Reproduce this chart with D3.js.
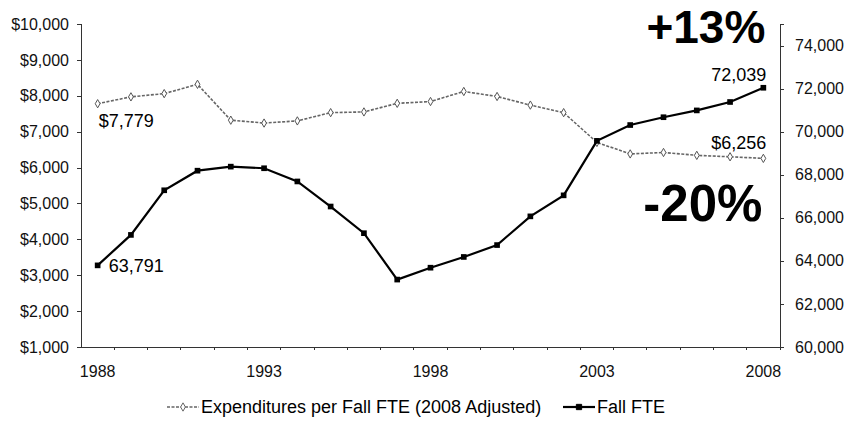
<!DOCTYPE html>
<html>
<head>
<meta charset="utf-8">
<script src="https://cdn.jsdelivr.net/npm/d3@7"></script>
<style>
	body { margin: 0; background: #fff; }
	svg { display: block; font-family: "Liberation Sans", Arial, sans-serif; }
	.axis path, .axis line { stroke: #333; shape-rendering: crispEdges; }
	.axis text { font-size: 16px; fill: #111; }
</style>
</head>
<body>
<svg id="chart"></svg>
<script>
let years		= [1988, 1989, 1990, 1991, 1992, 1993, 1994, 1995, 1996, 1997, 1998,
				   1999, 2000, 2001, 2002, 2003, 2004, 2005, 2006, 2007, 2008];
let spending	= [7779, 7970, 8060, 8320, 7320, 7240, 7300, 7530, 7550, 7790, 7840,
				   8120, 7980, 7740, 7530, 6700, 6380, 6420, 6340, 6300, 6256];
let fallFte		= [63791, 65205, 67278, 68188, 68376, 68301, 67688, 66524, 65285, 63131, 63683,
				   64182, 64734, 66067, 67043, 69573, 70308, 70671, 70987, 71378, 72039];
let leftTicks	= [1000, 2000, 3000, 4000, 5000, 6000, 7000, 8000, 9000, 10000];
let rightTicks	= [60000, 62000, 64000, 66000, 68000, 70000, 72000, 74000];
let yearTicks	= [1988, 1993, 1998, 2003, 2008];
let seriesNames	= ['Expenditures per Fall FTE (2008 Adjusted)', 'Fall FTE'];
let changes		= ['+13%', '-20%'];

let canvasWidth		= 848;
let canvasHeight	= 422;
let margin			= { top: 24, right: 68, bottom: 75, left: 81 };
let width			= canvasWidth - margin.left - margin.right;
let height			= canvasHeight - margin.top - margin.bottom;

let svg = d3.select('#chart')
	.attr('width', canvasWidth)
	.attr('height', canvasHeight)
	.append('g')
		.attr('transform', 'translate(' + margin.left + ',' + margin.top + ')');

let x		= d3.scaleBand().domain(years).range([0, width]).padding(0);
let yLeft	= d3.scaleLinear().domain([1000, 10000]).range([height, 0]);
let yRight	= d3.scaleLinear().domain([60000, 75000]).range([height, 0]);
let cx		= (d) => (x(d) + x.bandwidth() / 2);

// axes
let fmtMoney = (d) => ('$' + d3.format(',')(d));

svg.append('g')
	.attr('class', 'axis')
	.call(d3.axisLeft(yLeft).tickValues(leftTicks).tickFormat(fmtMoney).tickSize(4).tickPadding(8));

svg.append('g')
	.attr('class', 'axis')
	.attr('transform', 'translate(' + width + ',0)')
	.call(d3.axisRight(yRight).tickValues(rightTicks).tickFormat(d3.format(',')).tickSize(4).tickPadding(11));

// category axis: ticks sit between the years, labels under every 5th year
let xAxis = svg.append('g')
	.attr('class', 'axis')
	.attr('transform', 'translate(0,' + height + ')');

xAxis.append('line')
	.attr('x1', 0)
	.attr('x2', width);

xAxis.selectAll('.tick-mark').data(years).enter()
	.append('line')
		.attr('class', 'tick-mark')
		.attr('x1', (d) => (x(d) + x.bandwidth()))
		.attr('x2', (d) => (x(d) + x.bandwidth()))
		.attr('y1', 0)
		.attr('y2', 3);

xAxis.selectAll('.year').data(yearTicks).enter()
	.append('text')
		.attr('class', 'year')
		.attr('text-anchor', 'middle')
		.attr('x', (d) => cx(d))
		.attr('y', 30)
		.text((d) => d);

// series
let spendLine	= d3.line().x((d, i) => cx(years[i])).y((d) => yLeft(d));
let fteLine		= d3.line().x((d, i) => cx(years[i])).y((d) => yRight(d));

svg.append('path')
	.datum(spending)
	.attr('d', spendLine)
	.attr('fill', 'none')
	.attr('stroke', '#666')
	.attr('stroke-width', 1.6)
	.attr('stroke-dasharray', '3,1.5');

svg.selectAll('.spend-pt').data(spending).enter()
	.append('path')
		.attr('class', 'spend-pt')
		.attr('d', d3.symbol().type(d3.symbolDiamond).size(20))
		.attr('transform', (d, i) => ('translate(' + cx(years[i]) + ',' + yLeft(d) + ')'))
		.attr('fill', '#fff')
		.attr('stroke', '#555')
		.attr('stroke-width', 1);

svg.append('path')
	.datum(fallFte)
	.attr('d', fteLine)
	.attr('fill', 'none')
	.attr('stroke', '#000')
	.attr('stroke-width', 2.2);

svg.selectAll('.fte-pt').data(fallFte).enter()
	.append('path')
		.attr('class', 'fte-pt')
		.attr('d', d3.symbol().type(d3.symbolSquare).size(32))
		.attr('transform', (d, i) => ('translate(' + cx(years[i]) + ',' + yRight(d) + ')'))
		.attr('fill', '#000');

// end point labels
let first	= 0;
let last	= years.length - 1;
let lblSize	= '18px';

svg.append('text')
	.attr('x', cx(years[first]) + 1)
	.attr('y', yLeft(spending[first]) + 23)
	.attr('font-size', lblSize)
	.text(fmtMoney(spending[first]));

svg.append('text')
	.attr('x', cx(years[first]) + 11)
	.attr('y', yRight(fallFte[first]) + 7)
	.attr('font-size', lblSize)
	.text(d3.format(',')(fallFte[first]));

svg.append('text')
	.attr('text-anchor', 'end')
	.attr('x', cx(years[last]) + 3)
	.attr('y', yRight(fallFte[last]) - 7)
	.attr('font-size', lblSize)
	.text(d3.format(',')(fallFte[last]));

svg.append('text')
	.attr('text-anchor', 'end')
	.attr('x', cx(years[last]) + 3)
	.attr('y', yLeft(spending[last]) - 9)
	.attr('font-size', lblSize)
	.text(fmtMoney(spending[last]));

// big change callouts
svg.append('text')
	.attr('text-anchor', 'end')
	.attr('x', cx(years[last]) + 2)
	.attr('y', yRight(fallFte[last]) - 45)
	.attr('font-size', '46px')
	.attr('font-weight', 'bold')
	.text(changes[0]);

svg.append('text')
	.attr('text-anchor', 'end')
	.attr('x', cx(years[last]) - 1)
	.attr('y', yLeft(spending[last]) + 63)
	.attr('font-size', '51px')
	.attr('font-weight', 'bold')
	.text(changes[1]);

// legend
let legend = svg.append('g')
	.attr('transform', 'translate(0,' + (height + 60) + ')');

let legendItems = [
	{ name: seriesNames[0], x: 86, color: '#666', dash: '3,1.5', sym: d3.symbolDiamond, fill: '#fff', size: 20 },
	{ name: seriesNames[1], x: 482, color: '#000', dash: null, sym: d3.symbolSquare, fill: '#000', size: 28 }
];

let item = legend.selectAll('.legend-item').data(legendItems).enter()
	.append('g')
		.attr('class', 'legend-item')
		.attr('transform', (o) => ('translate(' + o.x + ',0)'));

item.append('line')
	.attr('x1', 0)
	.attr('x2', 32)
	.attr('stroke', (o) => o.color)
	.attr('stroke-width', (o, i) => (i ? 2.2 : 1.6))
	.attr('stroke-dasharray', (o) => o.dash);

item.append('path')
	.attr('d', (o) => d3.symbol().type(o.sym).size(o.size)())
	.attr('transform', 'translate(16,0)')
	.attr('fill', (o) => o.fill)
	.attr('stroke', (o) => o.color);

item.append('text')
	.attr('x', 34)
	.attr('dy', '0.35em')
	.attr('font-size', '18px')
	.text((o) => o.name);
</script>
</body>
</html>
